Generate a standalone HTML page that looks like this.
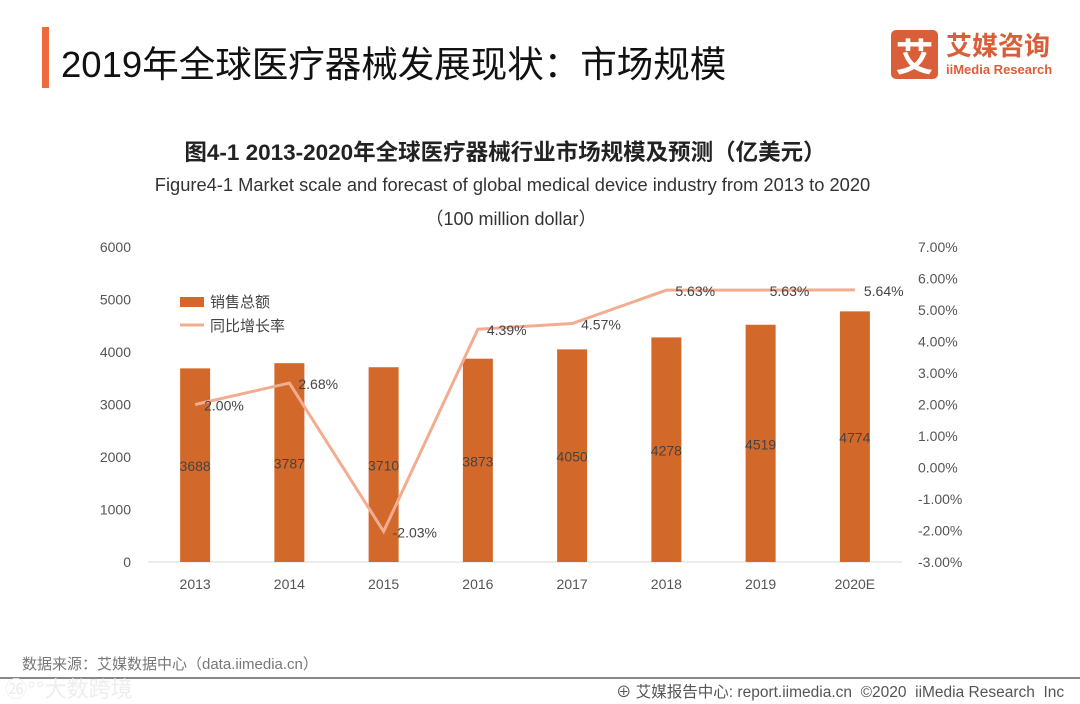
<!DOCTYPE html>
<html><head><meta charset="utf-8"><style>
body{margin:0;width:1080px;height:702px;background:#fff;overflow:hidden;font-family:"Liberation Sans","Noto Sans CJK SC",sans-serif;position:relative}
.abs{position:absolute}
</style></head><body>
<div class="abs" style="left:42px;top:27px;width:7px;height:61px;background:#ee6a3c"></div>
<div class="abs" style="left:61px;top:35px;font-size:36.5px;color:#111;">2019年全球医疗器械发展现状：市场规模</div>
<div class="abs" style="left:891px;top:30px;width:47px;height:49px;background:#d95f3b;border-radius:5px;color:#fff;font-size:38px;line-height:49px;text-align:center;font-family:'Noto Sans CJK SC',sans-serif;font-weight:bold">艾</div>
<div class="abs" style="left:946px;top:29px;font-size:26px;color:#d95f3b;font-weight:bold;font-family:'Noto Sans CJK SC',sans-serif;line-height:32px">艾媒咨询</div>
<div class="abs" style="left:946px;top:62px;font-size:13px;color:#d95f3b;font-weight:bold">iiMedia Research</div>

<div class="abs" style="left:0;width:1010px;top:135px;text-align:center;font-size:22.5px;font-weight:bold;color:#222">图4-1 2013-2020年全球医疗器械行业市场规模及预测（亿美元）</div>
<div class="abs" style="left:0;width:1025px;top:174px;text-align:center;font-size:18.3px;color:#333">Figure4-1 Market scale and forecast of global medical device industry from 2013 to 2020</div>
<div class="abs" style="left:0;width:1022px;top:205px;text-align:center;font-size:18px;color:#333">（100 million dollar）</div>

<svg class="abs" style="left:0;top:0" width="1080" height="702" id="chart"></svg>

<div class="abs" style="left:22px;top:653px;font-size:15px;color:#777">数据来源：艾媒数据中心（data.iimedia.cn）</div>
<div class="abs" style="left:0;top:677px;width:1080px;height:2px;background:#888"></div>
<div class="abs" style="left:5px;top:672px;font-size:22px;color:#eee">㉖°°大数跨境</div>
<div class="abs" style="left:616px;top:680px;font-size:15.5px;color:#555;white-space:nowrap">⊕ 艾媒报告中心: report.iimedia.cn &nbsp;©2020 &nbsp;iiMedia Research &nbsp;Inc</div>

<script>
const categories=["2013","2014","2015","2016","2017","2018","2019","2020E"];
const sales=[3688,3787,3710,3873,4050,4278,4519,4774];
const growth=[2.00,2.68,-2.03,4.39,4.57,5.63,5.63,5.64];
const leftTicks=[0,1000,2000,3000,4000,5000,6000];
const rightTicks=[-3,-2,-1,0,1,2,3,4,5,6,7];
const svg=document.getElementById('chart');
const NS='http://www.w3.org/2000/svg';
const x0=148,x1=902,yTop=247,yBot=562;
const band=(x1-x0)/categories.length;
const xc=i=>x0+band*(i+0.5);
const yL=v=>yBot-(v/6000)*(yBot-yTop);
const yR=v=>yBot-((v+3)/10)*(yBot-yTop);
function mk(tag,attrs,txt){const e=document.createElementNS(NS,tag);for(const k in attrs)e.setAttribute(k,attrs[k]);if(txt!==undefined)e.textContent=txt;svg.appendChild(e);return e;}
const F='"Liberation Sans","Noto Sans CJK SC",sans-serif';
let e=mk('line',{x1:x0,x2:x1,y1:yBot,y2:yBot,stroke:'#d9d9d9','stroke-width':1});


leftTicks.forEach(v=>{const t=mk('text',{x:131,y:yL(v)+5,'text-anchor':'end','font-size':14,fill:'#555','font-family':F},String(v));

});
rightTicks.forEach(v=>{const t=mk('text',{x:918,y:yR(v)+5,'font-size':14,fill:'#555','font-family':F},v.toFixed(2)+'%');

});
categories.forEach((c,i)=>{
const r=mk('rect',{x:xc(i)-15,y:yL(sales[i]),width:30,height:yBot-yL(sales[i]),fill:'#d2692a'});


const t=mk('text',{x:xc(i),y:(yL(sales[i])+yBot)/2+6,'text-anchor':'middle','font-size':14,fill:'#444','font-family':F},String(sales[i]));


const xl=mk('text',{x:xc(i),y:589,'text-anchor':'middle','font-size':14,fill:'#555','font-family':F},c);


});
const pts=growth.map((g,i)=>xc(i)+','+yR(g)).join(' ');
e=mk('polyline',{points:pts,fill:'none',stroke:'#f2ad90','stroke-width':3});


growth.forEach((g,i)=>{const t=mk('text',{x:xc(i)+9,y:yR(g)+6,'font-size':14,fill:'#444','font-family':F},g.toFixed(2)+'%');

});
e=mk('rect',{x:180,y:297,width:24,height:10,fill:'#d2692a'});


e=mk('text',{x:210,y:307,'font-size':15,fill:'#444','font-family':F},'销售总额');


e=mk('line',{x1:180,x2:204,y1:325,y2:325,stroke:'#f2ad90','stroke-width':3});


e=mk('text',{x:210,y:331,'font-size':15,fill:'#444','font-family':F},'同比增长率');


</script>
</body></html>
